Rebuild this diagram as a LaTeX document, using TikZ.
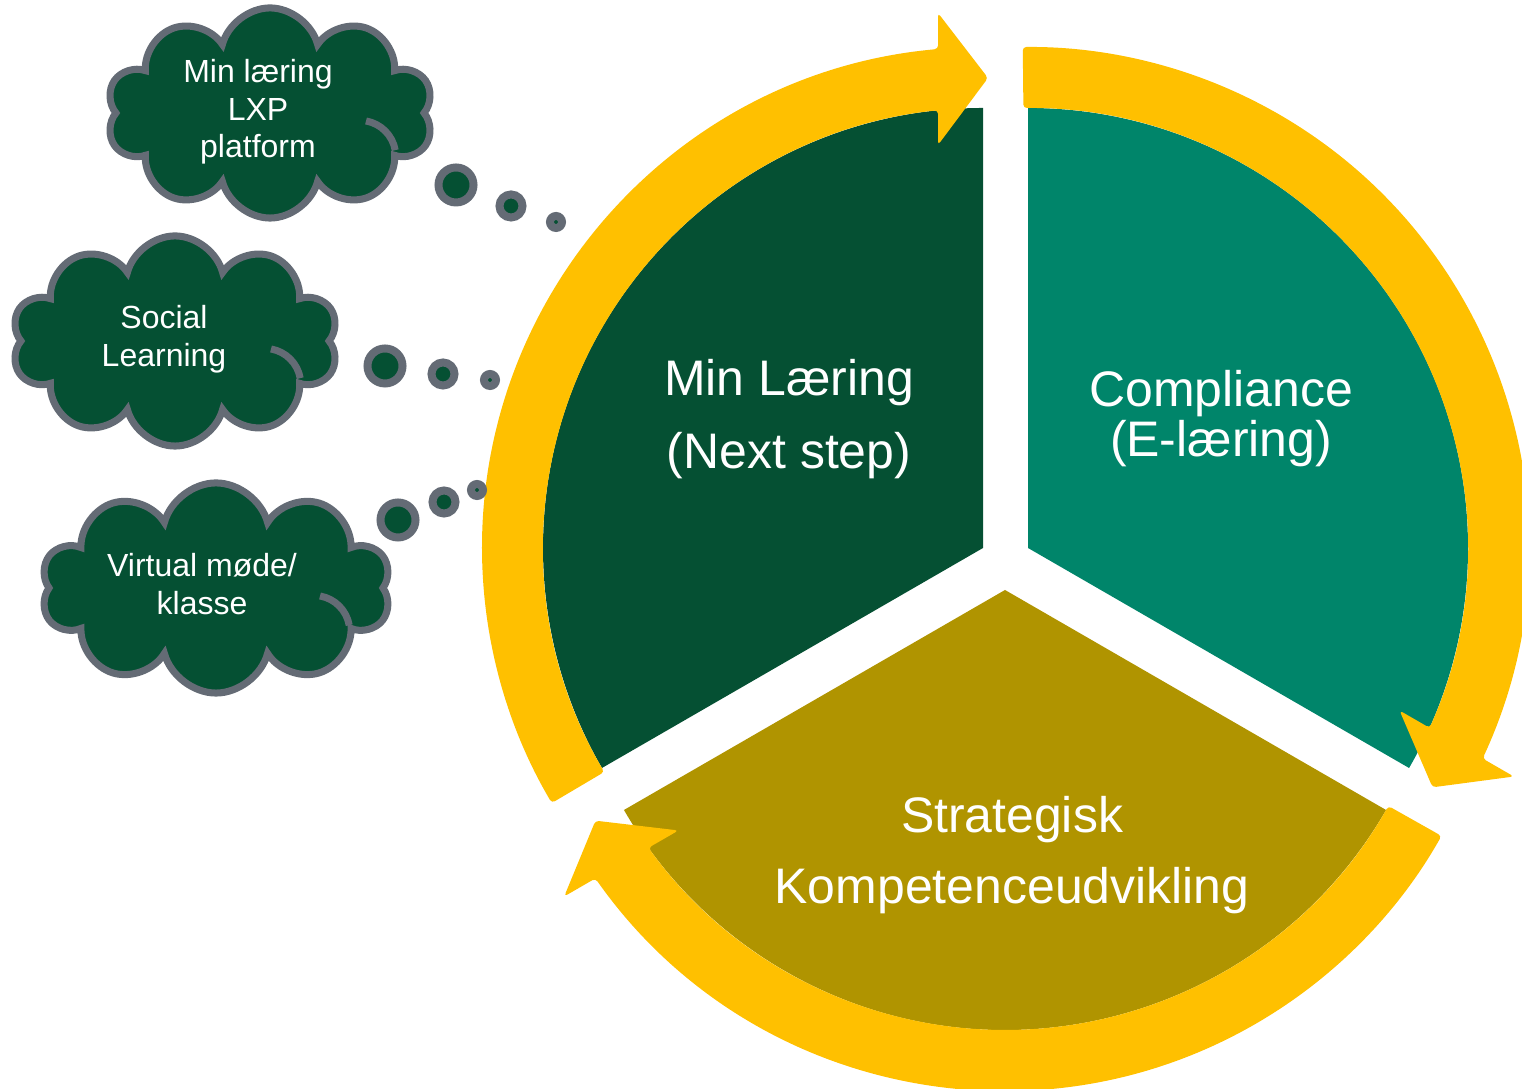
\documentclass[tikz,border=0pt]{standalone}
\usepackage{fontspec}
\setmainfont{Liberation Sans}
\usepackage{tikz}
\usetikzlibrary{shapes.symbols}
\definecolor{mingreen}{RGB}{5,80,51}
\definecolor{compteal}{RGB}{0,133,106}
\definecolor{stratolive}{RGB}{176,148,0}
\definecolor{ringyellow}{RGB}{255,192,0}
\definecolor{puffgray}{RGB}{100,107,117}
\tikzset{
  thought/.style={cloud,cloud puffs=10,aspect=1.55,draw=puffgray,line width=2pt,fill=mingreen,minimum width=3.27cm,minimum height=2.1cm},
  puffline/.style={draw=puffgray,line width=2pt},
  bubble/.style={circle,draw=puffgray,line width=2.27pt,fill=mingreen,inner sep=0pt},
  bigtext/.style={text=white,align=center},
  smalltext/.style={text=white,align=center,font=\fontsize{9.1pt}{10.7pt}\selectfont}
}

\begin{document}
\begin{tikzpicture}[x=0.01cm,y=0.01cm]
\useasboundingbox (0,0) rectangle (1522,1089);
\fill[mingreen] (983,541) -- ++(90:440) arc (90:210:440) -- cycle;
\fill[compteal] (1028,541) -- ++(90:440) arc (90:-30:440) -- cycle;
\fill[stratolive] (1005,499) -- ++(-30:440) arc (-30:-150:440) -- cycle;
% one arrow per sector, turned round the sector's corner
\foreach \a/\vx/\vy in {0/983/541,-120/1028/541,-240/1005/499}
  \fill[ringyellow,rounded corners=1pt,shift={(\vx,\vy)},rotate=\a] (210.6:440) arc (210.6:95.87:440) -- (-45,403) -- (5,470) -- (-45,535) -- (95.15:501) arc (95.15:210.6:501) -- cycle;
\node[bigtext,font=\fontsize{14.2pt}{20.8pt}\selectfont] (minlaering) at (789,670) {Min Læring\\(Next step)};
\node[bigtext,font=\fontsize{14.2pt}{14.2pt}\selectfont] (compliance) at (1221,670) {Compliance\\(E-læring)};
\node[bigtext,font=\fontsize{14.2pt}{20.2pt}\selectfont] (strategisk) at (1012,234) {Strategisk\\Kompetenceudvikling};
\node[thought] (lxp) at (270,976) {};
\node[thought] (social) at (175,748) {};
\node[thought,minimum width=3.5cm] (virtual) at (216,501) {};
\draw[puffline] ([shift={(96,-8)}]lxp.center) arc (80:10:36);
\draw[puffline] ([shift={(96,-8)}]social.center) arc (80:10:36);
\draw[puffline] ([shift={(104,-8)}]virtual.center) arc (80:10:36);
\node[smalltext] (lxptext) at (258,977) {Min læring\\LXP\\platform};
\node[smalltext] (socialtext) at (164,750) {Social\\Learning};
\node[smalltext] (virtualtext) at (202,505) {Virtual møde/\\klasse};
\node[bubble,minimum size=0.35cm] (lxpa) at (456,904) {};
\node[bubble,minimum size=0.23cm] (lxpb) at (511,883) {};
\node[bubble,minimum size=0.12cm] (lxpc) at (556,867) {};
\node[bubble,minimum size=0.35cm] (sociala) at (385,723) {};
\node[bubble,minimum size=0.23cm] (socialb) at (443,715) {};
\node[bubble,minimum size=0.12cm] (socialc) at (490,709) {};
\node[bubble,minimum size=0.35cm] (virtuala) at (398,569) {};
\node[bubble,minimum size=0.23cm] (virtualb) at (444,587) {};
\node[bubble,minimum size=0.12cm] (virtualc) at (477,599) {};
\end{tikzpicture}
\end{document}
